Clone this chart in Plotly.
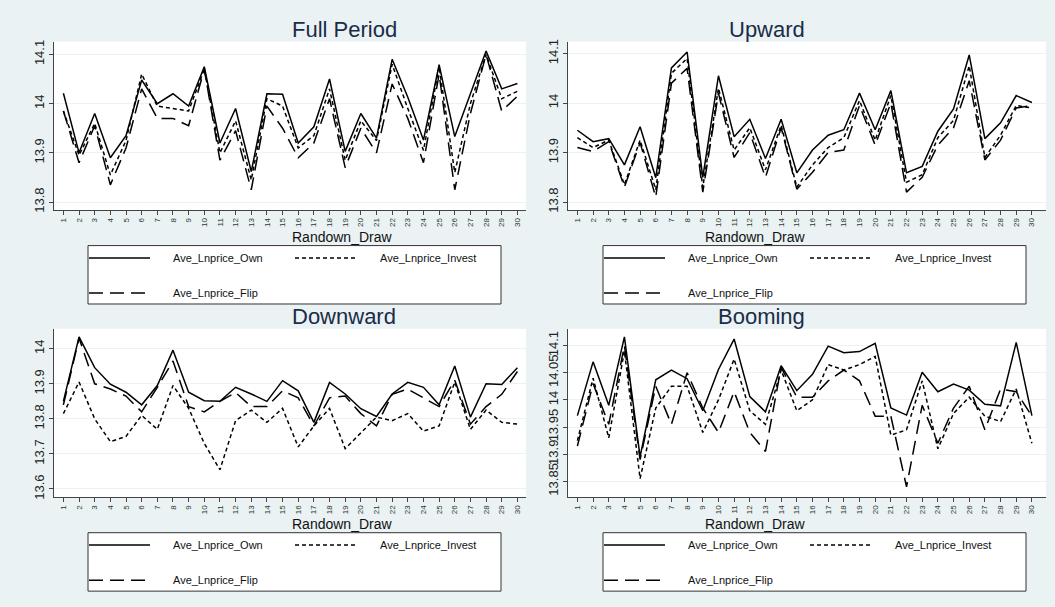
import plotly.graph_objects as go

draws = list(range(1, 31))

# ---- Full Period ----
full_own = [14.021, 13.900, 13.980, 13.890, 13.935, 14.048, 14.000, 14.020, 13.995, 14.075,
            13.920, 13.990, 13.862, 14.020, 14.019, 13.920, 13.953, 14.050, 13.903, 13.980,
            13.930, 14.090, 14.013, 13.926, 14.079, 13.933, 14.020, 14.107, 14.030, 14.041]
full_invest = [13.985, 13.895, 13.960, 13.855, 13.925, 14.060, 13.995, 13.990, 13.985, 14.070,
               13.900, 13.965, 13.845, 14.010, 13.995, 13.910, 13.935, 14.030, 13.885, 13.965,
               13.925, 14.080, 13.990, 13.905, 14.075, 13.860, 14.000, 14.100, 14.010, 14.025]
full_flip = [13.985, 13.880, 13.955, 13.835, 13.910, 14.030, 13.970, 13.970, 13.955, 14.070,
             13.885, 13.945, 13.825, 13.995, 13.950, 13.890, 13.920, 14.010, 13.870, 13.950,
             13.900, 14.040, 13.970, 13.880, 14.060, 13.825, 13.980, 14.100, 13.985, 14.015]

# ---- Upward ----
up_own = [13.945, 13.922, 13.928, 13.875, 13.952, 13.849, 14.071, 14.103, 13.850, 14.055,
          13.932, 13.967, 13.888, 13.967, 13.859, 13.905, 13.935, 13.946, 14.020, 13.946,
          14.025, 13.859, 13.872, 13.943, 13.988, 14.097, 13.928, 13.960, 14.015, 14.001]
up_invest = [13.930, 13.910, 13.925, 13.835, 13.925, 13.825, 14.060, 14.090, 13.830, 14.030,
             13.905, 13.950, 13.865, 13.955, 13.830, 13.875, 13.910, 13.930, 14.005, 13.925,
             14.015, 13.840, 13.855, 13.930, 13.965, 14.075, 13.890, 13.935, 13.995, 13.990]
up_flip = [13.910, 13.902, 13.922, 13.830, 13.920, 13.810, 14.040, 14.070, 13.820, 14.020,
           13.890, 13.940, 13.850, 13.950, 13.826, 13.860, 13.900, 13.905, 13.995, 13.915,
           14.000, 13.820, 13.850, 13.915, 13.950, 14.045, 13.885, 13.925, 13.990, 13.995]

# ---- Downward ----
down_own = [13.850, 14.034, 13.946, 13.899, 13.876, 13.840, 13.895, 13.996, 13.876, 13.852,
            13.850, 13.890, 13.871, 13.850, 13.909, 13.880, 13.790, 13.904, 13.871, 13.829,
            13.807, 13.871, 13.904, 13.890, 13.840, 13.951, 13.805, 13.900, 13.898, 13.946]
down_invest = [13.815, 13.905, 13.800, 13.735, 13.750, 13.810, 13.770, 13.895, 13.830, 13.730,
               13.655, 13.795, 13.825, 13.790, 13.830, 13.720, 13.780, 13.830, 13.715, 13.760,
               13.805, 13.795, 13.815, 13.765, 13.780, 13.905, 13.770, 13.825, 13.790, 13.785]
down_flip = [13.840, 14.030, 13.900, 13.885, 13.865, 13.820, 13.890, 13.965, 13.835, 13.820,
             13.850, 13.875, 13.835, 13.835, 13.880, 13.860, 13.780, 13.860, 13.865, 13.815,
             13.780, 13.870, 13.885, 13.860, 13.835, 13.910, 13.785, 13.835, 13.870, 13.935]

# ---- Booming ----
boom_own = [13.971, 14.070, 13.990, 14.116, 13.895, 14.037, 14.055, 14.039, 13.980, 14.056,
            14.112, 14.006, 13.978, 14.063, 14.017, 14.047, 14.099, 14.087, 14.089, 14.104,
            13.985, 13.972, 14.051, 14.015, 14.029, 14.018, 13.992, 13.989, 14.106, 13.971]
boom_invest = [13.925, 14.040, 13.930, 14.090, 13.855, 13.985, 14.025, 14.025, 13.940, 14.000,
               14.075, 13.980, 13.955, 14.055, 13.980, 14.000, 14.065, 14.055, 14.065, 14.080,
               13.935, 13.945, 14.035, 13.910, 13.975, 14.005, 13.970, 13.960, 14.020, 13.920]
boom_flip = [13.915, 14.030, 13.955, 14.100, 13.890, 14.025, 13.955, 14.050, 13.985, 13.940,
             14.015, 13.940, 13.905, 14.060, 14.005, 14.005, 14.035, 14.055, 14.035, 13.970,
             13.970, 13.840, 13.990, 13.920, 13.985, 14.025, 13.945, 14.020, 14.015, 13.970]

panel_titles = ["Full Period", "Upward", "Downward", "Booming"]
series_names = ["Ave_Lnprice_Own", "Ave_Lnprice_Invest", "Ave_Lnprice_Flip"]
x_title = "Randown_Draw"

panels = [
    (full_own, full_invest, full_flip),
    (up_own, up_invest, up_flip),
    (down_own, down_invest, down_flip),
    (boom_own, boom_invest, boom_flip),
]
y_ticks = [
    [13.8, 13.9, 14.0, 14.1],
    [13.8, 13.9, 14.0, 14.1],
    [13.6, 13.7, 13.8, 13.9, 14.0],
    [13.85, 13.9, 13.95, 14.0, 14.05, 14.1],
]
y_ticktext = [
    ["13.8", "13.9", "14", "14.1"],
    ["13.8", "13.9", "14", "14.1"],
    ["13.6", "13.7", "13.8", "13.9", "14"],
    ["13.85", "13.9", "13.95", "14", "14.05", "14.1"],
]
y_ranges = [[13.784, 14.126], [13.784, 14.124], [13.577, 14.057], [13.821, 14.131]]
x_ranges = [[0.4, 30.55], [0.4, 30.9], [0.4, 30.55], [0.4, 30.9]]

W, H = 1055, 607
def px_x(x): return x / W
def px_y(y): return 1 - y / H

# pixel boxes of plot regions (left, right, top, bottom)
boxes = [(54, 526, 39, 209), (568, 1046, 39, 209), (54, 526, 329, 499), (568, 1046, 329, 499)]

dashes = ["solid", "4px,3px", "14px,7px"]
BG = "#EAF2F3"
fig = go.Figure()
layout = dict(
    width=W, height=H, paper_bgcolor=BG, plot_bgcolor="white",
    margin=dict(l=0, r=0, t=0, b=0), showlegend=False,
    font=dict(family="Liberation Sans, Arial, sans-serif", color="#111"),
)
annotations = []
shapes = []

for i, (data, box) in enumerate(zip(panels, boxes)):
    n = i + 1
    xa = "x" if n == 1 else f"x{n}"
    ya = "y" if n == 1 else f"y{n}"
    for vals, name, dash in zip(data, series_names, dashes):
        fig.add_trace(go.Scatter(x=draws, y=vals, mode="lines", name=name,
                                 line=dict(color="black", width=1.5, dash=dash),
                                 xaxis=xa, yaxis=ya))
    l, r, t, b = box
    layout["xaxis" if n == 1 else f"xaxis{n}"] = dict(
        domain=[px_x(l), px_x(r)], anchor=ya, range=x_ranges[i],
        tickmode="array", tickvals=draws, ticktext=[str(d) for d in draws],
        tickangle=-90, tickfont=dict(size=8, color="#333"),
        ticks="outside", ticklen=4, tickcolor="#444",
        showline=True, linecolor="#444", linewidth=1, showgrid=False, zeroline=False,
    )
    layout["yaxis" if n == 1 else f"yaxis{n}"] = dict(
        domain=[px_y(b), px_y(t)], anchor=xa, range=y_ranges[i],
        tickmode="array", tickvals=y_ticks[i], ticktext=y_ticktext[i],
        tickangle=-90, tickfont=dict(size=13, color="#222"),
        ticks="outside", ticklen=4, tickcolor="#444",
        showline=True, linecolor="#444", linewidth=1,
        showgrid=True, gridcolor=BG, gridwidth=1.2, zeroline=False,
    )
    cx = (l + r) / 2
    annotations.append(dict(text=panel_titles[i], x=px_x(cx), y=px_y(t - 12), xref="paper", yref="paper",
                            showarrow=False, font=dict(size=22, color="#1a2c48"), yanchor="middle"))
    annotations.append(dict(text=x_title, x=px_x(cx), y=px_y(b + 27), xref="paper", yref="paper",
                            showarrow=False, font=dict(size=14, color="#111"), yanchor="middle"))
    # legend box
    lx0 = 88 if i % 2 == 0 else 603
    lx1 = 501 if i % 2 == 0 else 1026
    ly0 = b + 36
    ly1 = b + 95
    shapes.append(dict(type="rect", xref="paper", yref="paper",
                       x0=px_x(lx0), x1=px_x(lx1), y0=px_y(ly1), y1=px_y(ly0),
                       line=dict(color="#333", width=1), fillcolor="white", layer="below"))
    row1 = ly0 + 12.5
    row2 = ly0 + 48
    samples = [(lx0 + 1, lx0 + 62, row1, lx0 + 83),
               (lx0 + 207, lx0 + 269, row1, lx0 + 290),
               (lx0 + 1, lx0 + 62, row2, lx0 + 83)]
    for (sx0, sx1, sy, tx), name, dash in zip(samples, series_names, dashes):
        shapes.append(dict(type="line", xref="paper", yref="paper",
                           x0=px_x(sx0), x1=px_x(sx1), y0=px_y(sy), y1=px_y(sy),
                           line=dict(color="black", width=1.5, dash=dash)))
        annotations.append(dict(text=name, x=px_x(tx), y=px_y(sy), xref="paper", yref="paper",
                                xanchor="left", yanchor="middle", showarrow=False,
                                font=dict(size=11, color="#111")))

layout["annotations"] = annotations
layout["shapes"] = shapes
fig.update_layout(**layout)
fig.write_html("out.html", config={"displayModeBar": False},
               post_script="document.body.style.margin='0';document.body.style.background='#EAF2F3';")
